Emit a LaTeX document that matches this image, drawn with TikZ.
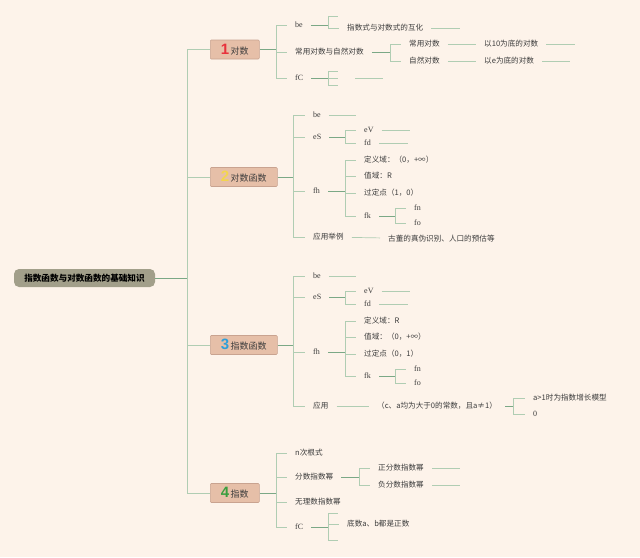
\documentclass[tikz,border=0pt]{standalone}
\usepackage{fontspec}
\setmainfont{Noto Sans CJK SC}
\newfontfamily\numfont{Liberation Sans}
\newfontfamily\latfont{Liberation Serif}
\usepackage{tikz}
\definecolor{bgc}{HTML}{FDF3EA}
\definecolor{lg}{HTML}{B0CDB3}
\definecolor{dg}{HTML}{7BA886}
\definecolor{bx}{HTML}{E6BFA8}
\definecolor{bxl}{HTML}{C9A390}
\definecolor{rt}{HTML}{A29F8A}
\definecolor{tx}{HTML}{3C3C3C}
\definecolor{n1}{HTML}{E8323C}
\definecolor{n2}{HTML}{F3D54E}
\definecolor{n3}{HTML}{2E9FD9}
\definecolor{n4}{HTML}{3A9E3F}
\newcommand{\topicnum}[2]{{\numfont\bfseries\fontsize{15}{15}\selectfont\color{#1}#2}}

\begin{document}
\begin{tikzpicture}[x=1pt,y=-1pt,
 root/.style={fill=rt,rounded corners=5pt,minimum width=141,minimum height=18,inner sep=0pt,font=\fontsize{8.6}{10}\selectfont\bfseries},
 topic/.style={draw=bxl,fill=bx,anchor=west,minimum height=19,inner sep=0pt,line width=0.6pt,rounded corners=1pt,font=\fontsize{9}{10}\selectfont,text=tx},
 leaf/.style={anchor=west,inner xsep=4pt,inner ysep=1pt,font=\fontsize{7.6}{9}\selectfont,text=tx},
 lat/.style={leaf,font=\fontsize{8}{9}\selectfont\latfont},
 ln/.style={lg,line width=0.7pt},
 lk/.style={dg,line width=0.9pt},
 sh/.style={shorten <=4pt,shorten >=4pt}]
\useasboundingbox (0,0) rectangle (640,557);
\fill[bgc] (0,0) rectangle (640,557);

\node[root] (root) at (84.5,278) {指数函数与对数函数的基础知识};
\coordinate (trunk) at (187,278);
\node[topic,minimum width=49] (t1) at (210,49.5) {\topicnum{n1}{1}\,对数};
\node[topic,minimum width=67] (t2) at (210,177) {\topicnum{n2}{2}\,对数函数};
\node[topic,minimum width=67] (t3) at (210,345) {\topicnum{n3}{3}\,指数函数};
\node[topic,minimum width=49] (t4) at (210,493) {\topicnum{n4}{4}\,指数};
\draw[lk] (root) -- (trunk);
\foreach \t in {t1,t2,t3,t4} \draw[ln] (trunk) |- (\t.west);

% 1 对数
\node[lat] (a1) at (291,25) {be};
\node[leaf] (a2) at (291,52) {常用对数与自然对数};
\node[lat] (a3) at (291,78) {fC};
\node[leaf] (a11) at (343,28) {指数式与对数式的互化};
\node[leaf] (a21) at (405,44) {常用对数};
\node[leaf] (a22) at (405,61) {自然对数};
\node[leaf] (a211) at (480,44) {以10为底的对数};
\node[leaf] (a221) at (480,61) {以e为底的对数};
\coordinate (k1) at (276,49.5); \coordinate (k11) at (328,25);
\coordinate (k12) at (390,52); \coordinate (k13) at (328,78);
\coordinate (e11) at (338,16);
\coordinate (e13a) at (338,71); \coordinate (e13b) at (338,78); \coordinate (e13c) at (338,85);
\coordinate (e13d) at (355,78); \coordinate (e13e) at (383,78);
\coordinate (z11) at (460,28); \coordinate (z211) at (575,44); \coordinate (z221) at (570,61);
\draw[lk] (t1) -- (k1);
\foreach \n in {a1,a2,a3} \draw[ln,shorten >=4pt] (k1) |- (\n.west);
\draw[lk,shorten <=4pt] (a1.east) -- (k11);
\draw[ln] (k11) |- (e11); \draw[ln,shorten >=4pt] (k11) |- (a11.west);
\draw[ln,shorten <=4pt] (a11.east) -- (z11);
\draw[lk,shorten <=4pt] (a2.east) -- (k12);
\foreach \n in {a21,a22} \draw[ln,shorten >=4pt] (k12) |- (\n.west);
\draw[ln,sh] (a21) -- (a211); \draw[ln,sh] (a22) -- (a221);
\draw[ln,shorten <=4pt] (a211.east) -- (z211);
\draw[ln,shorten <=4pt] (a221.east) -- (z221);
\draw[lk,shorten <=4pt] (a3.east) -- (k13);
\foreach \e in {e13a,e13b,e13c} \draw[ln] (k13) |- (\e);
\draw[ln] (e13d) -- (e13e);

% 2 对数函数
\node[lat] (b1) at (309,115) {be};
\node[lat] (b2) at (309,137) {eS};
\node[lat] (b3) at (309,191) {fh};
\node[leaf] (b4) at (309,237) {应用举例};
\node[lat] (b21) at (360,130) {eV};
\node[lat] (b22) at (360,143) {fd};
\node[leaf] (b31) at (360,160) {定义域：（0，+∞）};
\node[leaf] (b32) at (360,176) {值域：R};
\node[leaf] (b33) at (360,193) {过定点（1，0）};
\node[lat] (b34) at (360,216) {fk};
\node[lat] (b341) at (410,208) {fn};
\node[lat] (b342) at (410,223) {fo};
\node[leaf] (b41) at (384,239) {古董的真伪识别、人口的预估等};
\coordinate (k2) at (293,177); \coordinate (k21) at (345,137);
\coordinate (k22) at (345,191); \coordinate (k23) at (395,216);
\coordinate (z1) at (356,115); \coordinate (z21) at (410,130); \coordinate (z22) at (408,143);
\draw[lk] (t2) -- (k2);
\foreach \n in {b1,b2,b3,b4} \draw[ln,shorten >=4pt] (k2) |- (\n.west);
\draw[ln,shorten <=4pt] (b1.east) -- (z1);
\draw[lk,shorten <=4pt] (b2.east) -- (k21);
\foreach \n in {b21,b22} \draw[ln,shorten >=4pt] (k21) |- (\n.west);
\draw[ln,shorten <=4pt] (b21.east) -- (z21);
\draw[ln,shorten <=4pt] (b22.east) -- (z22);
\draw[lk,shorten <=4pt] (b3.east) -- (k22);
\foreach \n in {b31,b32,b33,b34} \draw[ln,shorten >=4pt] (k22) |- (\n.west);
\draw[lk,shorten <=4pt] (b34.east) -- (k23);
\foreach \n in {b341,b342} \draw[ln,shorten >=4pt] (k23) |- (\n.west);
\draw[ln,sh] (b4) -- (b41);

% 3 指数函数
\node[lat] (c1) at (309,276) {be};
\node[lat] (c2) at (309,297) {eS};
\node[lat] (c3) at (309,352) {fh};
\node[leaf] (c4) at (309,406) {应用};
\node[lat] (c21) at (360,291) {eV};
\node[lat] (c22) at (360,304) {fd};
\node[leaf] (c31) at (360,321) {定义域：R};
\node[leaf] (c32) at (360,337) {值域：（0，+∞）};
\node[leaf] (c33) at (360,354) {过定点（0，1）};
\node[lat] (c34) at (360,376) {fk};
\node[lat] (c341) at (410,369) {fn};
\node[lat] (c342) at (410,383) {fo};
\node[leaf] (c41) at (373,406) {（c、a均为大于0的常数，且a≠1）};
\node[leaf] (c411) at (529,398) {a>1时为指数增长模型};
\node[lat] (c412) at (529,414) {0};
\coordinate (k3) at (293,345); \coordinate (k31) at (345,297);
\coordinate (k32) at (345,352); \coordinate (k33) at (395,376);
\coordinate (k34) at (513,406);
\coordinate (y1) at (356,276); \coordinate (y21) at (410,291); \coordinate (y22) at (408,304);
\draw[lk] (t3) -- (k3);
\foreach \n in {c1,c2,c3,c4} \draw[ln,shorten >=4pt] (k3) |- (\n.west);
\draw[ln,shorten <=4pt] (c1.east) -- (y1);
\draw[lk,shorten <=4pt] (c2.east) -- (k31);
\foreach \n in {c21,c22} \draw[ln,shorten >=4pt] (k31) |- (\n.west);
\draw[ln,shorten <=4pt] (c21.east) -- (y21);
\draw[ln,shorten <=4pt] (c22.east) -- (y22);
\draw[lk,shorten <=4pt] (c3.east) -- (k32);
\foreach \n in {c31,c32,c33,c34} \draw[ln,shorten >=4pt] (k32) |- (\n.west);
\draw[lk,shorten <=4pt] (c34.east) -- (k33);
\foreach \n in {c341,c342} \draw[ln,shorten >=4pt] (k33) |- (\n.west);
\draw[ln,sh] (c4) -- (c41);
\draw[lk,shorten <=4pt] (c41.east) -- (k34);
\foreach \n in {c411,c412} \draw[ln,shorten >=4pt] (k34) |- (\n.west);

% 4 指数
\node[leaf] (d1) at (291,453) {n次根式};
\node[leaf] (d2) at (291,477) {分数指数幂};
\node[leaf] (d3) at (291,502) {无理数指数幂};
\node[lat] (d4) at (291,527) {fC};
\node[leaf] (d21) at (374,468) {正分数指数幂};
\node[leaf] (d22) at (374,485) {负分数指数幂};
\node[leaf] (d41) at (343,524) {底数a、b都是正数};
\coordinate (k4) at (276,493); \coordinate (k41) at (359,477); \coordinate (k42) at (328,527);
\coordinate (e42a) at (338,513); \coordinate (e42c) at (338,540);
\coordinate (x21) at (460,468); \coordinate (x22) at (460,485);
\draw[lk] (t4) -- (k4);
\foreach \n in {d1,d2,d3,d4} \draw[ln,shorten >=4pt] (k4) |- (\n.west);
\draw[lk,shorten <=4pt] (d2.east) -- (k41);
\foreach \n in {d21,d22} \draw[ln,shorten >=4pt] (k41) |- (\n.west);
\draw[ln,shorten <=4pt] (d21.east) -- (x21);
\draw[ln,shorten <=4pt] (d22.east) -- (x22);
\draw[lk,shorten <=4pt] (d4.east) -- (k42);
\draw[ln] (k42) |- (e42a); \draw[ln] (k42) |- (e42c);
\draw[ln,shorten >=4pt] (k42) |- (d41.west);
\end{tikzpicture}
\end{document}
